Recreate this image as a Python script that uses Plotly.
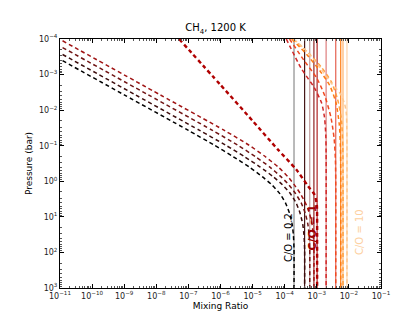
import numpy as np
import plotly.graph_objects as go

# ---- data (log10 values) ----
# solid (equilibrium) mixing ratios, one per C/O case
solid_logx = [-3.71, -3.38, -3.22, -3.09, -2.99, -2.71, -2.41, -2.255, -2.184, -2.06]
solid_colors = ["rgba(0,0,0,0.45)", "rgba(60,12,12,0.95)", "rgba(120,30,30,0.45)",
                "rgba(130,10,10,0.9)", "rgba(170,10,10,0.9)", "rgba(200,40,40,0.6)",
                "rgba(225,70,50,0.85)", "rgba(255,120,10,0.95)", "rgba(255,160,70,0.8)",
                "rgba(253,200,150,0.8)"]

# dashed (disequilibrium) profiles: log10 mixing ratio vs log10 pressure
dash_logx = [
    [-10.92, -9.0, -7.0, -6.2, -5.6, -5.1, -4.7, -4.4, -4.15, -3.97, -3.85, -3.77, -3.73, -3.71, -3.71],
    [-10.92, -8.65, -6.65, -5.85, -5.25, -4.76, -4.36, -4.07, -3.82, -3.64, -3.52, -3.44, -3.40, -3.38, -3.38],
    [-10.92, -8.25, -6.25, -5.47, -4.91, -4.46, -4.12, -3.87, -3.66, -3.48, -3.36, -3.28, -3.24, -3.22, -3.22],
    [-10.92, -7.88, -5.88, -5.12, -4.60, -4.20, -3.90, -3.70, -3.51, -3.35, -3.23, -3.15, -3.11, -3.09, -3.09],
    [-7.29, -6.0, -5.0, -4.21, -3.64, -3.27, -3.07, -3.0, -2.99, -2.99, -2.99],
    [-3.95, -3.49, -3.07, -2.85, -2.76, -2.72, -2.71, -2.71],
    [-3.85, -3.4, -3.0, -2.75, -2.56, -2.46, -2.42, -2.41, -2.41],
    [-3.78, -3.3, -2.9, -2.6, -2.4, -2.3, -2.265, -2.255, -2.255],
    [-3.75, -3.25, -2.85, -2.55, -2.35, -2.23, -2.19, -2.184, -2.184],
    [-3.72, -3.43, -3.18, -2.87, -2.56, -2.29, -2.14, -2.08, -2.065, -2.06, -2.06],
]
dash_logp = [
    [-3.39, -2.43, -1.43, -1.02, -0.69, -0.40, -0.13, 0.10, 0.35, 0.62, 0.90, 1.20, 1.50, 1.9, 3.0],
    [-3.565, -2.43, -1.43, -1.02, -0.69, -0.40, -0.13, 0.10, 0.35, 0.62, 0.90, 1.20, 1.50, 1.9, 3.0],
    [-3.76, -2.43, -1.43, -1.02, -0.69, -0.40, -0.13, 0.10, 0.35, 0.62, 0.90, 1.20, 1.50, 1.9, 3.0],
    [-3.95, -2.43, -1.43, -1.02, -0.69, -0.40, -0.13, 0.10, 0.35, 0.62, 0.90, 1.20, 1.50, 1.9, 3.0],
    [-4.0, -2.71, -1.7, -0.89, -0.33, 0.14, 0.38, 0.65, 1.0, 1.5, 3.0],
    [-4.0, -3.18, -2.62, -2.2, -1.8, -1.3, -0.8, 3.0],
    [-4.0, -3.4, -2.9, -2.4, -1.8, -1.2, -0.6, 0.0, 3.0],
    [-4.0, -3.55, -3.1, -2.7, -2.2, -1.6, -1.0, -0.3, 3.0],
    [-4.0, -3.6, -3.2, -2.8, -2.3, -1.7, -1.0, -0.3, 3.0],
    [-4.0, -3.76, -3.52, -3.16, -2.77, -2.49, -2.2, -1.9, -1.5, -1.0, 3.0],
]
dash_colors = ["#000000", "#3c0c0c", "#701414", "#a01414", "#b00000",
               "#d02828", "#f04a22", "#ff7a10", "#ffa040", "#fdc890"]
dash_widths = [1.5, 1.5, 1.5, 1.5, 2.4, 1.5, 1.5, 1.5, 1.5, 1.5]

labels = ["C/O = 0.2", "<b>C/O = 1</b>", "C/O = 10"]
label_logx = [-3.90, -3.13, -1.69]
label_logp = [1.57, 1.31, 1.43]
label_colors = ["#000000", "#a00000", "#fdd0a0"]
label_sizes = [10, 11, 10]

x_ticks_exp = list(range(-11, 0))
y_ticks_exp = list(range(-4, 4))


def pow_label(e):
    s = str(e).replace("-", "\u2212")
    return "10<sup>" + s + "</sup>"


fig = go.Figure()

for lx, c in zip(solid_logx, solid_colors):
    fig.add_trace(go.Scatter(x=[10 ** lx, 10 ** lx], y=[1e-4, 1e3], mode="lines",
                             line=dict(color=c, width=1.2), showlegend=False, hoverinfo="skip"))

for lx, lp, c, w in zip(dash_logx, dash_logp, dash_colors, dash_widths):
    fig.add_trace(go.Scatter(x=10 ** np.array(lx), y=10 ** np.array(lp), mode="lines",
                             line=dict(color=c, width=w, dash="4px,3px", shape="spline", smoothing=0.6),
                             showlegend=False, hoverinfo="skip"))

for t, lx, lp, c, s in zip(labels, label_logx, label_logp, label_colors, label_sizes):
    fig.add_annotation(x=lx, y=lp, text=t, showarrow=False, textangle=-90,
                       font=dict(color=c, size=s, family="DejaVu Sans"))

axis_common = dict(type="log", showgrid=False, zeroline=False, showline=True, linecolor="black",
                   linewidth=1, mirror="ticks", ticks="inside", ticklen=4, tickcolor="black",
                   tickfont=dict(size=8, color="#222"), automargin=False,
                   minor=dict(ticks="inside", ticklen=2, tickcolor="#555", dtick="D1"))

fig.update_xaxes(range=[-11, -1], tickvals=[10.0 ** e for e in x_ticks_exp],
                 ticktext=[pow_label(e) for e in x_ticks_exp],
                 title=dict(text="Mixing Ratio", font=dict(size=9), standoff=2), **axis_common)
fig.update_yaxes(range=[3, -4], tickvals=[10.0 ** e for e in y_ticks_exp],
                 ticktext=[pow_label(e) for e in y_ticks_exp],
                 title=dict(text="Pressure (bar)", font=dict(size=9), standoff=4), **axis_common)

fig.update_layout(
    width=415, height=312,
    margin=dict(l=52, r=42, t=31, b=32),
    paper_bgcolor="white", plot_bgcolor="white",
    font=dict(family="DejaVu Sans", color="black"),
    title=dict(text="CH<sub>4</sub>, 1200 K", x=0.5, xanchor="center", y=0.925, yanchor="bottom",
               font=dict(size=10)),
)

fig.write_html("out.html")
